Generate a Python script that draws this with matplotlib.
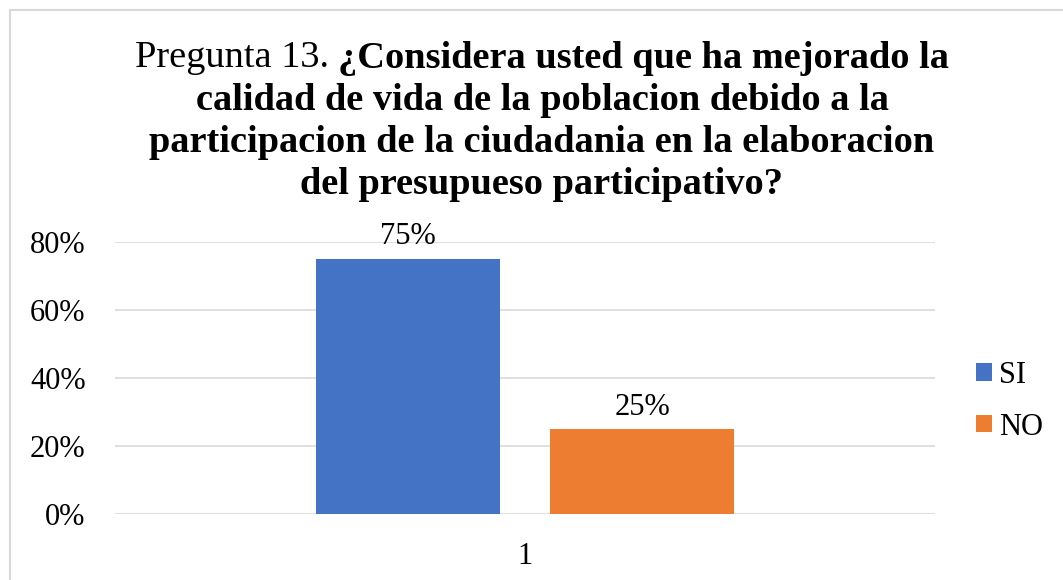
import matplotlib.pyplot as plt
from matplotlib.patches import Rectangle

# data
series = ["SI", "NO"]
values = [0.75, 0.25]
colors = ["#4472C4", "#ED7D31"]
yticks = [0, 0.2, 0.4, 0.6, 0.8]
title_lines = [
    ("Pregunta 13. ", "¿Considera usted que ha mejorado la"),
    ("", "calidad de vida de la poblacion debido a la"),
    ("", "participacion de la ciudadania en la elaboracion"),
    ("", "del presupueso participativo?"),
]

plt.rcParams["font.family"] = ["Liberation Serif", "DejaVu Serif"]

fig = plt.figure(figsize=(10.63, 5.8), dpi=100)
ax = fig.add_axes([0.108, 0.1138, 0.772, 0.469])

# chart border
fig.patches.append(Rectangle((10 / 1063, -0.01), 1.05, 1 - 10 / 580 + 0.01,
                             transform=fig.transFigure, fill=False,
                             edgecolor="#d9d9d9", linewidth=1.5))

width = 0.2244
offsets = [-0.1427, 0.1427]
for name, v, c, o in zip(series, values, colors, offsets):
    ax.bar(o, v, width=width, color=c, label=name, zorder=3)
    ax.text(o, v + 0.022, f"{v:.0%}", ha="center", va="bottom", fontsize=22)

ax.set_xlim(-0.5, 0.5)
ax.set_ylim(0, 0.8)
ax.set_yticks(yticks)
ax.set_yticklabels([f"{t:.0%}" for t in yticks], fontsize=22)
ax.set_xticks([0])
ax.set_xticklabels(["1"], fontsize=22)
ax.tick_params(length=0)
ax.tick_params(axis="y", pad=21)
ax.tick_params(axis="x", pad=20)
ax.yaxis.grid(True, color="#d9d9d9", linewidth=1.2, zorder=0)
for s in ax.spines.values():
    s.set_visible(False)

ax.legend(loc="center left", bbox_to_anchor=(1.035, 0.415), frameon=False,
          fontsize=22, handlelength=0.5, handleheight=0.5,
          handletextpad=0.25, labelspacing=0.75, borderaxespad=0)

# title, first line mixes regular and bold
fig.canvas.draw()
r = fig.canvas.get_renderer()
cx = 542 / 1063
ys = [58, 100, 143, 185]
for (reg, bold), yp in zip(title_lines, ys):
    y = 1 - yp / 580
    if reg:
        t1 = fig.text(0, y, reg, fontsize=27.6, va="center", ha="left")
        t2 = fig.text(0, y, bold, fontsize=27.6, va="center", ha="left",
                      fontweight="bold")
        w1 = t1.get_window_extent(r).width / fig.bbox.width
        w2 = t2.get_window_extent(r).width / fig.bbox.width
        x0 = cx - (w1 + w2) / 2
        t1.set_x(x0)
        t2.set_x(x0 + w1)
    else:
        fig.text(cx, y, bold, fontsize=27.6, va="center", ha="center",
                 fontweight="bold")

fig.savefig("out.png", dpi=100)
